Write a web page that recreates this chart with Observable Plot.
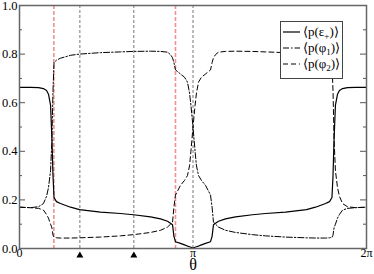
<!DOCTYPE html>
<html><head><meta charset="utf-8">
<script src="https://cdn.jsdelivr.net/npm/d3@7"></script>
<script src="https://cdn.jsdelivr.net/npm/@observablehq/plot@0.6"></script>
<style>body{margin:0;background:#fff} #chart{width:374px;height:274px}</style>
</head><body><div id="chart"></div>
<script>
// θ in units of π
const thetaOverPi = [0, 0.063, 0.110, 0.138, 0.156, 0.167, 0.179, 0.187, 0.193, 0.199, 0.213, 0.236, 0.294, 0.346, 0.467, 0.582, 0.657, 0.755, 0.813, 0.853, 0.870, 0.882, 0.890, 0.899, 0.928, 0.951, 0.968, 0.980, 0.988, 1.000,
  1.012, 1.020, 1.032, 1.049, 1.072, 1.101, 1.110, 1.118, 1.130, 1.147, 1.187, 1.245, 1.343, 1.418, 1.533, 1.654, 1.706, 1.764, 1.787, 1.801, 1.807, 1.813, 1.821, 1.833, 1.844, 1.862, 1.890, 1.937, 2.000];
const pEps = [0.663, 0.663, 0.662, 0.658, 0.650, 0.635, 0.59, 0.45, 0.30, 0.21, 0.193, 0.185, 0.170, 0.160, 0.150, 0.144, 0.139, 0.130, 0.122, 0.112, 0.104, 0.098, 0.05, 0.028, 0.021, 0.015, 0.010, 0.007, 0.005, 0.002,
  0.005, 0.007, 0.010, 0.015, 0.021, 0.028, 0.05, 0.098, 0.104, 0.112, 0.122, 0.130, 0.139, 0.144, 0.150, 0.160, 0.170, 0.185, 0.193, 0.21, 0.30, 0.45, 0.59, 0.635, 0.650, 0.658, 0.662, 0.663, 0.663];
const pPhi1 = [0.170, 0.168, 0.172, 0.185, 0.215, 0.25, 0.32, 0.45, 0.65, 0.765, 0.775, 0.783, 0.795, 0.800, 0.806, 0.809, 0.811, 0.812, 0.811, 0.808, 0.798, 0.785, 0.765, 0.735, 0.718, 0.705, 0.685, 0.64, 0.59, 0.50,
  0.40, 0.34, 0.30, 0.28, 0.26, 0.22, 0.17, 0.108, 0.100, 0.088, 0.075, 0.066, 0.057, 0.052, 0.047, 0.044, 0.043, 0.043, 0.044, 0.046, 0.055, 0.085, 0.10, 0.125, 0.140, 0.158, 0.165, 0.168, 0.170];
const pPhi2 = [0.170, 0.168, 0.165, 0.158, 0.140, 0.125, 0.10, 0.085, 0.055, 0.046, 0.044, 0.043, 0.043, 0.044, 0.047, 0.052, 0.057, 0.066, 0.075, 0.088, 0.100, 0.108, 0.17, 0.22, 0.26, 0.28, 0.30, 0.34, 0.40, 0.50,
  0.59, 0.64, 0.685, 0.705, 0.718, 0.735, 0.765, 0.785, 0.798, 0.808, 0.811, 0.812, 0.811, 0.809, 0.806, 0.800, 0.795, 0.783, 0.775, 0.765, 0.65, 0.45, 0.32, 0.25, 0.215, 0.185, 0.172, 0.168, 0.170];

const grayLinesOverPi = [0.348, 0.659, 1.0];
const redLinesOverPi = [0.198, 0.899];
const triangleOverPi = [0.348, 0.659];
const yMajor = [0, 0.2, 0.4, 0.6, 0.8, 1.0];
const yMinor = [0.1, 0.3, 0.5, 0.7, 0.9];
const xTickValues = [0, Math.PI, 2 * Math.PI];
const xTickLabels = ["0", "π", "2π"];
const legendEntries = [
  {base: "ε", sub: "+", dash: null},
  {base: "φ", sub: "1", dash: "6,2,1.5,2"},
  {base: "φ", sub: "2", dash: "5,3"}
];

const rows = thetaOverPi.map((t, i) => ({theta: t * Math.PI, eps: pEps[i], phi1: pPhi1[i], phi2: pPhi2[i]}));
const W = 374, H = 274, mL = 19, mR = 8, mT = 5, mB = 26;
const plotW = W - mL - mR;
const serif = "'Liberation Serif', 'Times New Roman', serif";

const svg = Plot.plot({
  width: W, height: H, marginLeft: mL, marginRight: mR, marginTop: mT, marginBottom: mB,
  style: {fontFamily: serif, fontSize: "12.5px", color: "#000", background: "#fff"},
  x: {domain: [0, 2 * Math.PI], axis: null},
  y: {domain: [0, 1], axis: null},
  marks: [
    Plot.ruleX(grayLinesOverPi, {x: d => d * Math.PI, stroke: "#777", strokeDasharray: "3,2", strokeWidth: 1}),
    Plot.ruleX(redLinesOverPi, {x: d => d * Math.PI, stroke: "#f29090", strokeDasharray: "4,2", strokeWidth: 1.6}),
    Plot.line(rows, {x: "theta", y: "eps", stroke: "#000", strokeWidth: 1.2}),
    Plot.line(rows, {x: "theta", y: "phi1", stroke: "#000", strokeWidth: 1, strokeDasharray: "6,2,1.5,2"}),
    Plot.line(rows, {x: "theta", y: "phi2", stroke: "#000", strokeWidth: 1, strokeDasharray: "5,3"}),
    Plot.tickY(yMajor, {y: d => d, insetRight: plotW - 6, stroke: "#555"}),
    Plot.tickY(yMinor, {y: d => d, insetRight: plotW - 3, stroke: "#555"}),
    Plot.tickY(yMajor, {y: d => d, insetLeft: plotW - 6, stroke: "#555"}),
    Plot.tickY(yMinor, {y: d => d, insetLeft: plotW - 3, stroke: "#555"}),
    Plot.frame({stroke: "#666", strokeWidth: 1.5}),
    Plot.axisY(yMajor, {tickSize: 0, tickPadding: 2, label: null, fontFamily: serif, fontSize: 12.5, tickFormat: d3.format(".1f")}),
    Plot.axisX(xTickValues, {tickSize: 0, tickPadding: 0, label: null, fontFamily: serif, fontSize: 12, tickFormat: d => xTickLabels[xTickValues.indexOf(d)]}),
    Plot.dot(triangleOverPi, {x: d => d * Math.PI, y: () => 0, symbol: "triangle", fill: "#000", r: 2.6, dy: 7}),
    Plot.text(["θ"], {text: d => d, frameAnchor: "bottom", lineAnchor: "middle", dy: 16, fontSize: 16, fontFamily: serif})
  ]
});
document.getElementById("chart").appendChild(svg);

// legend (drawn on top, white box)
const s = d3.select(svg);
const lg = s.append("g").attr("font-family", serif).attr("font-size", 13).attr("text-anchor", "start");
lg.append("rect").attr("x", 280.5).attr("y", 21.5).attr("width", 62).attr("height", 57)
  .attr("fill", "#fff").attr("stroke", "#444").attr("stroke-width", 1);
legendEntries.forEach((e, i) => {
  const cy = 32 + i * 16;
  const ln = lg.append("line").attr("x1", 283).attr("x2", 300).attr("y1", cy).attr("y2", cy)
    .attr("stroke", "#000").attr("stroke-width", 1.2);
  if (e.dash) ln.attr("stroke-dasharray", e.dash);
  const t = lg.append("text").attr("x", 303).attr("y", cy + 4).attr("fill", "#000").attr("text-anchor", "start");
  t.append("tspan").text("⟨p(" + e.base);
  t.append("tspan").attr("dy", 3).attr("font-size", 9).text(e.sub);
  t.append("tspan").attr("dy", -3).text(")⟩");
});
</script></body></html>
